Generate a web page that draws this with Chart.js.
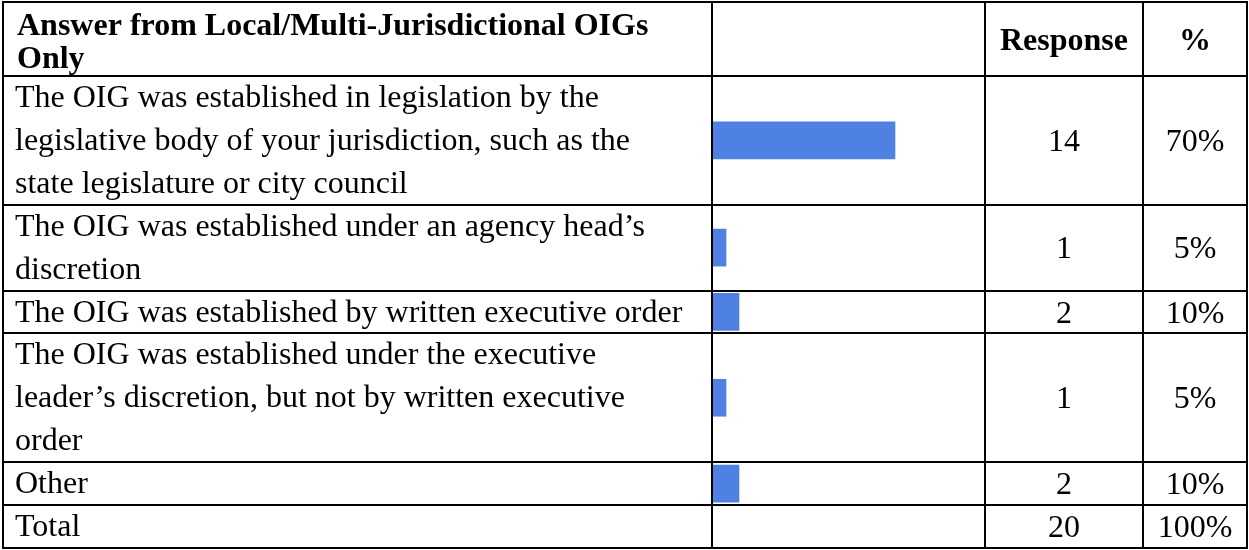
<!DOCTYPE html>
<html><head><meta charset="utf-8">
<script src="https://cdn.jsdelivr.net/npm/chart.js@4.4.1/dist/chart.umd.min.js"></script>
<style>html,body{margin:0;padding:0;background:#fff;}canvas{display:block;}</style>
</head><body>
<canvas id="c" width="1249" height="550"></canvas>
<script>
// ---- data ----
const headerLabels = ['Answer from Local/Multi-Jurisdictional OIGs Only', '', 'Response', '%'];
const categories = [
  'The OIG was established in legislation by the legislative body of your jurisdiction, such as the state legislature or city council',
  'The OIG was established under an agency head\u2019s discretion',
  'The OIG was established by written executive order',
  'The OIG was established under the executive leader\u2019s discretion, but not by written executive order',
  'Other'
];
const responses = [14, 1, 2, 1, 2];
const percentLabels = ['70%', '5%', '10%', '5%', '10%'];
const totalLabels = ['Total', '20', '100%'];

// ---- layout ----
const W = 1249, H = 550;
const colX = [3, 712, 985, 1143, 1247];
const tableTop = 2, headerBottom = 76, lineH = 42.9, headerLineH = 33;
const FONT = '"Liberation Serif", "Times New Roman", serif';
const FS = 32;
const textX = 15, headerX = 17;
const wrapWidth = 678;
const barLeft = 713, pxPerUnit = 13;

function build() {
  const mctx = document.createElement('canvas').getContext('2d');
  function wrap(text, bold) {
    mctx.font = (bold ? 'bold ' : '') + FS + 'px ' + FONT;
    const words = text.split(' ');
    const lines = [];
    let cur = '';
    words.forEach(w => {
      const t = cur ? cur + ' ' + w : w;
      if (cur && mctx.measureText(t).width > wrapWidth) { lines.push(cur); cur = w; }
      else cur = t;
    });
    if (cur) lines.push(cur);
    return lines;
  }
  const headerLines = wrap(headerLabels[0], true);
  const rowLines = categories.map(c => wrap(c, false));
  const rowTops = [];
  let yy = headerBottom;
  rowLines.forEach(l => { rowTops.push(yy); yy += l.length * lineH; });
  const totalTop = yy;
  const tableBottom = totalTop + lineH;
  const rowCenters = rowTops.map((t, i) => t + rowLines[i].length * lineH / 2);

  const tablePlugin = {
    id: 'table',
    beforeDraw(chart) {
      const ctx = chart.ctx;
      ctx.save();
      ctx.fillStyle = '#fff';
      ctx.fillRect(0, 0, W, H);
      ctx.restore();
    },
    afterDraw(chart) {
      const ctx = chart.ctx;
      ctx.save();
      ctx.strokeStyle = '#000';
      ctx.lineWidth = 2;
      const hs = [tableTop, headerBottom, ...rowTops.slice(1), totalTop, tableBottom];
      hs.forEach(y => {
        const yr = Math.round(y);
        ctx.beginPath(); ctx.moveTo(colX[0] - 1, yr); ctx.lineTo(colX[4] + 1, yr); ctx.stroke();
      });
      colX.forEach(x => {
        ctx.beginPath(); ctx.moveTo(x, Math.round(tableTop) - 1); ctx.lineTo(x, Math.round(tableBottom) + 1); ctx.stroke();
      });
      ctx.fillStyle = '#000';
      ctx.textBaseline = 'alphabetic';
      ctx.font = 'bold ' + FS + 'px ' + FONT;
      ctx.textAlign = 'left';
      headerLines.forEach((l, k) => ctx.fillText(l, headerX, tableTop + 33 + k * headerLineH));
      ctx.textAlign = 'center';
      const hMid = (tableTop + headerBottom) / 2 + 0.33 * FS;
      ctx.fillText(headerLabels[2], (colX[2] + colX[3]) / 2, hMid);
      ctx.fillText(headerLabels[3], (colX[3] + colX[4]) / 2, hMid);
      ctx.font = FS + 'px ' + FONT;
      rowLines.forEach((lines, i) => {
        ctx.textAlign = 'left';
        lines.forEach((l, k) => ctx.fillText(l, textX, rowTops[i] + 31 + k * lineH));
        ctx.textAlign = 'center';
        const b = rowCenters[i] + 0.33 * FS;
        ctx.fillText(String(responses[i]), (colX[2] + colX[3]) / 2, b);
        ctx.fillText(percentLabels[i], (colX[3] + colX[4]) / 2, b);
      });
      ctx.textAlign = 'left';
      ctx.fillText(totalLabels[0], textX, totalTop + 31);
      ctx.textAlign = 'center';
      const tb = totalTop + lineH / 2 + 0.33 * FS;
      ctx.fillText(totalLabels[1], (colX[2] + colX[3]) / 2, tb);
      ctx.fillText(totalLabels[2], (colX[3] + colX[4]) / 2, tb);
      ctx.restore();
    }
  };

  new Chart(document.getElementById('c'), {
    type: 'bar',
    data: {
      datasets: [{
        data: responses.map((v, i) => ({ x: v, y: rowCenters[i] })),
        backgroundColor: '#4F81E3',
        borderWidth: 0,
        barThickness: 37
      }]
    },
    options: {
      indexAxis: 'y',
      responsive: false,
      animation: false,
      devicePixelRatio: 1,
      layout: { padding: 0 },
      plugins: { legend: { display: false }, tooltip: { enabled: false } },
      scales: {
        x: { type: 'linear', display: false, min: -barLeft / pxPerUnit, max: (W - barLeft) / pxPerUnit },
        y: { type: 'linear', display: false, offset: false, grid: { offset: false }, min: 0, max: H, reverse: true }
      }
    },
    plugins: [tablePlugin]
  });
}

const fontLoads = document.fonts && document.fonts.load
  ? Promise.all([document.fonts.load(FS + 'px "Liberation Serif"'), document.fonts.load('bold ' + FS + 'px "Liberation Serif"')])
  : Promise.resolve();
fontLoads.then(build, build);
</script>
</body></html>
